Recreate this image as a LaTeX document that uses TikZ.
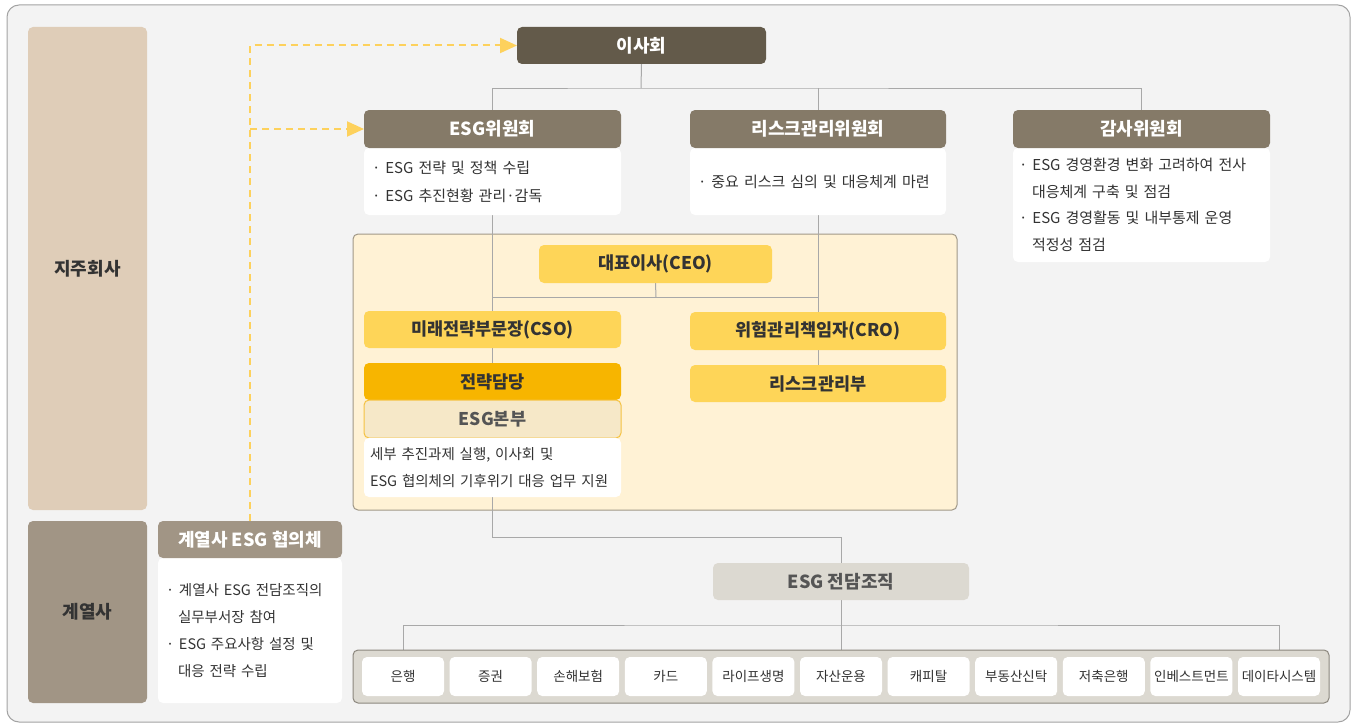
\documentclass[tikz,border=0pt]{standalone}
\usepackage{fontspec}
\setmainfont{Noto Sans CJK KR}
\usetikzlibrary{arrows.meta}
\pgfdeclarelayer{back}
\pgfdeclarelayer{lines}
\pgfsetlayers{back,lines,main}
\definecolor{outerbg}{HTML}{F3F3F3}
\definecolor{outerln}{HTML}{A3A3A3}
\definecolor{jijuC}{HTML}{DFCDB8}
\definecolor{gyeC}{HTML}{A19585}
\definecolor{boardC}{HTML}{635A4A}
\definecolor{commC}{HTML}{857A68}
\definecolor{regionC}{HTML}{FFF2D5}
\definecolor{regionLn}{HTML}{A09888}
\definecolor{yelC}{HTML}{FED558}
\definecolor{orC}{HTML}{F7B500}
\definecolor{buC}{HTML}{F6E8C8}
\definecolor{buLn}{HTML}{F5C242}
\definecolor{teamC}{HTML}{DCD9D1}
\definecolor{contLn}{HTML}{8C877E}
\definecolor{dashC}{HTML}{FDD15C}
\definecolor{connC}{HTML}{A8A8A8}
\definecolor{txtC}{HTML}{333333}
\definecolor{txtG}{HTML}{555555}
\tikzset{
  box/.style={rectangle, rounded corners=5pt, inner sep=0pt, outer sep=0pt, anchor=north west},
  title/.style={box, fill=commC, text=white, font=\fontsize{18}{20}\selectfont\bfseries},
  desc/.style={box, fill=white, text=txtC, align=left, inner xsep=8pt, font=\fontsize{15}{28}\selectfont},
  yel/.style={box, fill=yelC, text=txtC, font=\fontsize{17.5}{20}\selectfont\bfseries},
  side/.style={box, text=txtC, font=\fontsize{18}{20}\selectfont\bfseries},
  bank/.style={box, fill=white, text=txtC, minimum width=82pt, minimum height=39pt, font=\fontsize{13.5}{15}\selectfont},
  conn/.style={draw=connC, line width=1pt},
  dashy/.style={draw=dashC, line width=2pt, dash pattern=on 7pt off 5pt, -{Triangle[length=17pt,width=15pt]}},
}
\begin{document}
\begin{tikzpicture}[x=1pt,y=-1pt]
\useasboundingbox (0,0) rectangle (1357,725);
\begin{pgfonlayer}{back}
  \draw[fill=outerbg, draw=outerln, line width=1pt, rounded corners=12pt] (7,5) rectangle (1350,722);
  \draw[fill=regionC, draw=regionLn, line width=1pt, rounded corners=5pt] (353,234) rectangle (957,510);
\end{pgfonlayer}

% side labels
\node[side, fill=jijuC, minimum width=119pt, minimum height=483pt] (jiju) at (28,27) {지주회사};
\node[side, fill=gyeC, minimum width=119pt, minimum height=182pt] (gye) at (28,521) {계열사};

% board
\node[title, fill=boardC, minimum width=249pt, minimum height=37pt] (board) at (517,27) {이사회};

% committees
\node[desc, minimum width=257pt, minimum height=67pt, text width=241pt] (esgd) at (364,148)
  {· ESG 전략 및 정책 수립\\· ESG 추진현황 관리·감독};
\node[title, minimum width=257pt, minimum height=38pt] (esgc) at (364,110) {ESG위원회};
\node[desc, minimum width=256pt, minimum height=67pt, text width=240pt] (riskd) at (690,148)
  {· 중요 리스크 심의 및 대응체계 마련};
\node[title, minimum width=256pt, minimum height=38pt] (riskc) at (690,110) {리스크관리위원회};
\node[desc, minimum width=257pt, minimum height=114pt, text width=245pt, inner xsep=6pt, font=\fontsize{15}{26.5}\selectfont] (audd) at (1013,148)
  {· ESG 경영환경 변화 고려하여 전사\\\hspace*{13pt}대응체계 구축 및 점검\\· ESG 경영활동 및 내부통제 운영\\\hspace*{13pt}적정성 점검};
\node[title, minimum width=257pt, minimum height=38pt] (audc) at (1013,110) {감사위원회};

% inside region
\node[yel, minimum width=233pt, minimum height=38pt] (ceo) at (539,245) {대표이사(CEO)};
\node[yel, minimum width=257pt, minimum height=37pt] (cso) at (364,311) {미래전략부문장(CSO)};
\node[yel, minimum width=256pt, minimum height=38pt] (cro) at (690,312) {위험관리책임자(CRO)};
\node[yel, fill=orC, minimum width=257pt, minimum height=37pt] (strat) at (364,363) {전략담당};
\node[yel, fill=buC, draw=buLn, line width=1pt, text=txtG, minimum width=257pt, minimum height=38pt] (esgbu) at (364,400) {ESG본부};
\node[desc, minimum width=257pt, minimum height=59pt, text width=245pt, inner xsep=6pt, font=\fontsize{14.5}{27}\selectfont] (esgbud) at (364,438)
  {세부 추진과제 실행, 이사회 및\\ESG 협의체의 기후위기 대응 업무 지원};
\node[yel, minimum width=256pt, minimum height=37pt] (riskdept) at (690,365) {리스크관리부};

% affiliates council
\node[desc, minimum width=184pt, minimum height=145pt, text width=168pt, inner xsep=8pt, font=\fontsize{14.5}{27}\selectfont] (hyubd) at (158,558)
  {· 계열사 ESG 전담조직의\\\hspace*{12pt}실무부서장 참여\\· ESG 주요사항 설정 및\\\hspace*{12pt}대응 전략 수립};
\node[title, fill=gyeC, minimum width=184pt, minimum height=37pt] (hyub) at (158,521) {계열사 ESG 협의체};

% team
\node[title, fill=teamC, text=txtG, minimum width=256pt, minimum height=37pt] (team) at (713,563) {ESG 전담조직};
\node[box, fill=teamC, draw=contLn, line width=1pt, minimum width=976pt, minimum height=53pt] (cont) at (353,650) {};
\foreach \t [count=\i from 0] in {은행,증권,손해보험,카드,라이프생명,자산운용,캐피탈,부동산신탁,저축은행,인베스트먼트,데이타시스템}{
  \pgfmathtruncatemacro{\n}{\i+1}
  \node[bank] (b\n) at ({362+\i*87.6},657) {\t};
}

% connectors
\begin{pgfonlayer}{lines}
  \coordinate (busA) at (641,88);
  \coordinate (busB) at (656,297);
  \coordinate (busD) at (841,625);
  \draw[conn] (board.south) -- (busA);
  \draw[conn] (esgc.north) |- (busA) -| (audc.north);
  \draw[conn] (riskc.north) -- (riskc.north |- busA);
  \draw[conn] (esgd.south) -- (cso.north);
  \draw[conn] (riskd.south) -- (cro.north);
  \draw[conn] (ceo.south) -- (busB);
  \draw[conn] (esgd.south |- busB) -- (riskd.south |- busB);
  \draw[conn] (cso.south) -- (strat.north);
  \draw[conn] (cro.south) -- (riskdept.north);
  \draw[conn] (esgbud.south) -- ++(0,40) -| (team.north);
  \draw[conn] (team.south) -- (cont.north);
  \draw[conn] (b1.north |- cont.north) |- (busD) -| (b11.north |- cont.north);
  \draw[dashy] (hyub.north) |- (board.west);
  \draw[dashy] (hyub.north |- esgc.west) -- (esgc.west);
\end{pgfonlayer}
\end{tikzpicture}
\end{document}
